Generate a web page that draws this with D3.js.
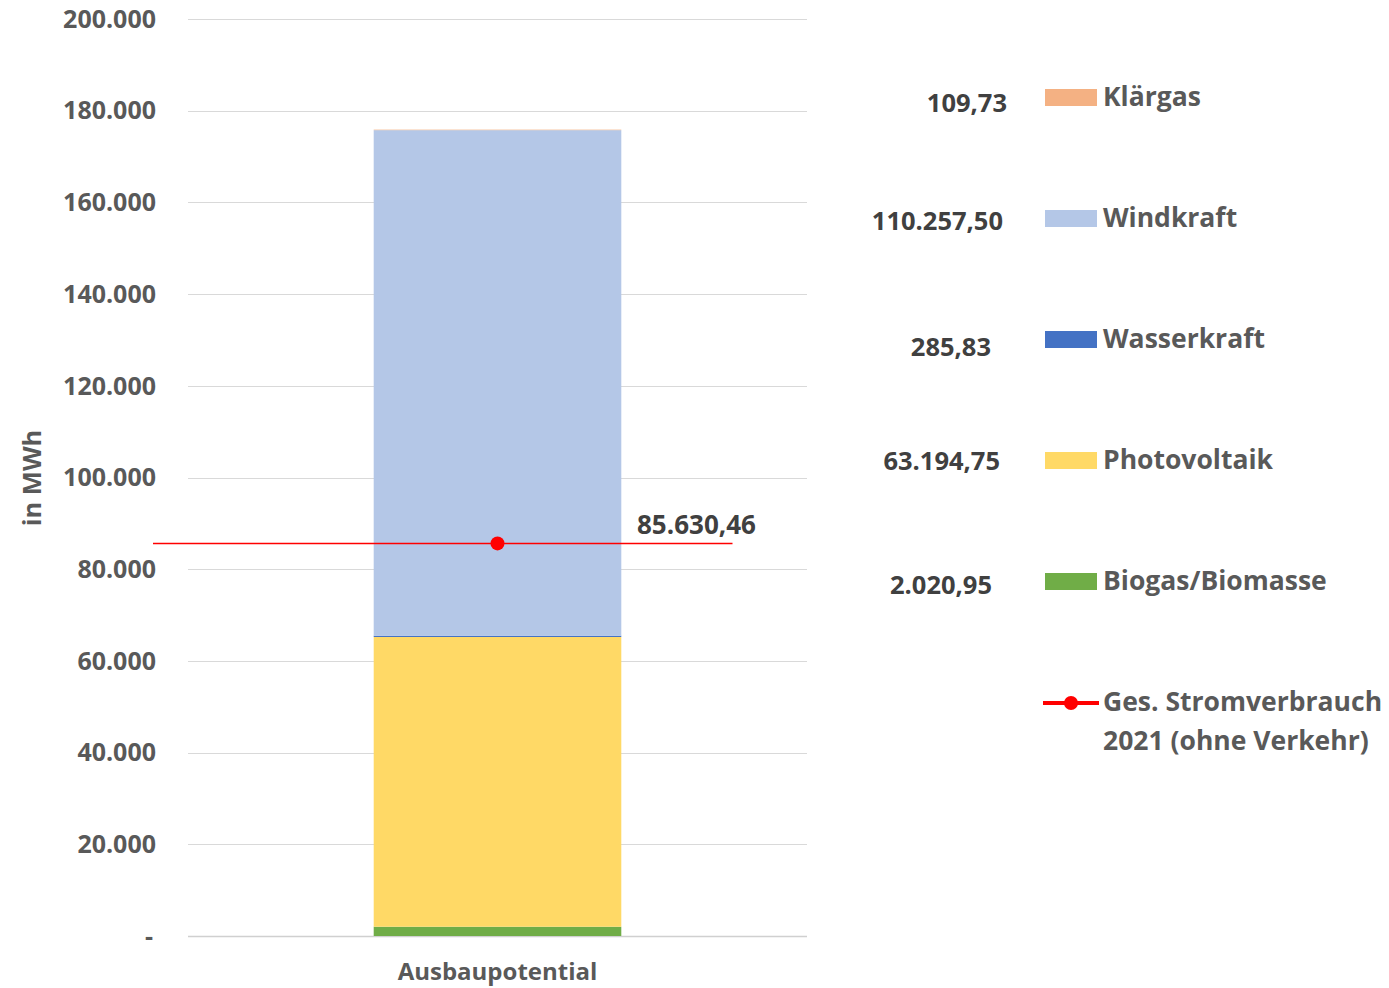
<!DOCTYPE html>
<html><head><meta charset="utf-8">
<script src="https://cdn.jsdelivr.net/npm/d3@7"></script>
<style>
html,body{margin:0;padding:0;background:#fff;}
text{font-family:"Open Sans",Calibri,sans-serif;font-weight:700;}
</style></head>
<body>
<svg id="chart" width="1389" height="988"></svg>
<script>
// ---- data ----
const categories = ["Ausbaupotential"];
const seriesNames = ["Biogas/Biomasse", "Photovoltaik", "Wasserkraft", "Windkraft", "Klärgas"];
const seriesValues = [2020.95, 63194.75, 285.83, 110257.50, 109.73];
const seriesLabels = ["2.020,95", "63.194,75", "285,83", "110.257,50", "109,73"];
const seriesColors = ["#70AD47", "#FFD966", "#4472C4", "#B4C7E7", "#F4B183"];
const consumptionName = ["Ges. Stromverbrauch", "2021 (ohne Verkehr)"];
const consumptionValue = 85630.46;
const consumptionLabel = "85.630,46";
const yTicks = [0, 20000, 40000, 60000, 80000, 100000, 120000, 140000, 160000, 180000, 200000];
const yTickLabels = ["-", "20.000", "40.000", "60.000", "80.000", "100.000", "120.000", "140.000", "160.000", "180.000", "200.000"];
const yTitle = "in MWh";

// ---- layout ----
const svg = d3.select("#chart");
const plot = {left: 188, right: 807, top: 19, bottom: 936};
const y = d3.scaleLinear().domain([0, 200000]).range([plot.bottom, plot.top]);
const x = d3.scaleBand().domain(categories).range([plot.left, plot.right]).paddingInner(0).paddingOuter(0.75);

// gridlines
svg.append("g").selectAll("line").data(yTicks).join("line")
  .attr("x1", plot.left).attr("x2", plot.right)
  .attr("y1", d => Math.round(y(d)) + 0.5).attr("y2", d => Math.round(y(d)) + 0.5)
  .attr("stroke", d => d === 0 ? "#d0d0d0" : "#d9d9d9").attr("stroke-width", d => d === 0 ? 1.5 : 1);

// y tick labels
svg.append("g").selectAll("text").data(yTicks).join("text")
  .attr("x", (d, i) => i === 0 ? 153 : 156)
  .attr("y", d => y(d))
  .attr("dy", "0.35em")
  .attr("text-anchor", "end")
  .attr("font-size", 25)
  .attr("fill", "#595959")
  .text((d, i) => yTickLabels[i]);

// y title
svg.append("text")
  .attr("transform", `translate(41,${478}) rotate(-90)`)
  .attr("text-anchor", "middle")
  .attr("font-size", 25.5)
  .attr("fill", "#595959")
  .text(yTitle);

// stacked bar
let cum = 0;
const stackData = seriesValues.map((v, i) => { const s = {y0: cum, y1: cum + v, color: seriesColors[i]}; cum += v; return s; });
svg.append("g").selectAll("rect").data(stackData).join("rect")
  .attr("x", x(categories[0]))
  .attr("width", x.bandwidth())
  .attr("y", d => y(d.y1))
  .attr("height", d => y(d.y0) - y(d.y1))
  .attr("fill", d => d.color);

// x label
svg.append("text")
  .attr("x", x(categories[0]) + x.bandwidth() / 2)
  .attr("y", 980)
  .attr("text-anchor", "middle")
  .attr("font-size", 24)
  .attr("fill", "#595959")
  .text(categories[0]);

// consumption line
const cx = x(categories[0]) + x.bandwidth() / 2;
const cy = y(consumptionValue);
svg.append("line")
  .attr("x1", plot.left - 35).attr("x2", cx + 235)
  .attr("y1", cy).attr("y2", cy)
  .attr("stroke", "#FF0000").attr("stroke-width", 1.5);
svg.append("circle").attr("cx", cx).attr("cy", cy).attr("r", 7).attr("fill", "#FF0000");
svg.append("text")
  .attr("x", 637).attr("y", cy - 9)
  .attr("font-size", 26)
  .attr("fill", "#404040")
  .text(consumptionLabel);

// legend
const legendRowY = [581, 460, 339, 218, 97];
const valueLabelEndX = [992, 1000, 991, 1003, 1007];
const valueLabelY = [585, 461, 347, 221, 103];
const lg = svg.append("g");
seriesNames.forEach((name, i) => {
  lg.append("rect").attr("x", 1045).attr("y", legendRowY[i] - 8).attr("width", 52).attr("height", 17).attr("fill", seriesColors[i]);
  lg.append("text").attr("x", 1103).attr("y", legendRowY[i]).attr("dy", "0.35em")
    .attr("font-size", 26.5).attr("fill", "#595959").text(name);
  lg.append("text").attr("x", valueLabelEndX[i]).attr("y", valueLabelY[i]).attr("dy", "0.35em")
    .attr("text-anchor", "end").attr("font-size", 25.5).attr("fill", "#404040").text(seriesLabels[i]);
});
// consumption legend
lg.append("line").attr("x1", 1043).attr("x2", 1099).attr("y1", 703).attr("y2", 703).attr("stroke", "#FF0000").attr("stroke-width", 4);
lg.append("circle").attr("cx", 1071).attr("cy", 703).attr("r", 7).attr("fill", "#FF0000");
lg.append("text").attr("x", 1103).attr("y", 702).attr("dy", "0.35em").attr("font-size", 26.5).attr("fill", "#595959").text(consumptionName[0]);
lg.append("text").attr("x", 1103).attr("y", 741).attr("dy", "0.35em").attr("font-size", 26.5).attr("fill", "#595959").text(consumptionName[1]);
</script>
</body></html>
